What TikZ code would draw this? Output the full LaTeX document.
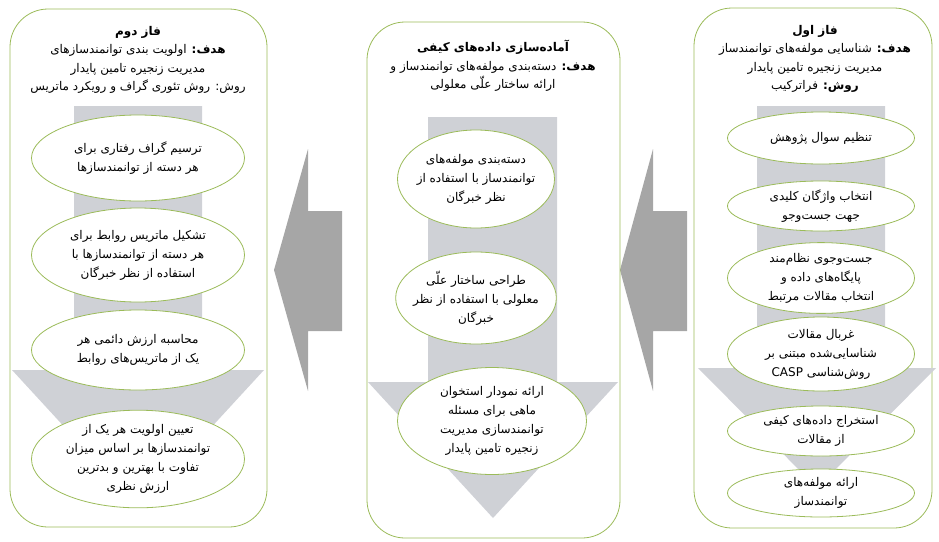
\documentclass[tikz,border=0pt]{standalone}
\usepackage{fontspec}
\usetikzlibrary{shapes.geometric}
\newfontfamily\arabicfont[Script=Arabic]{DejaVu Sans}
\TeXXeTstate=1
\definecolor{panelgreen}{HTML}{9BBB59}
\definecolor{bandgray}{HTML}{CFD1D6}
\definecolor{arrowgray}{HTML}{A6A6A6}
\newcommand{\fa}[1]{\beginR #1\endR}

\begin{document}
\begin{tikzpicture}[x=1pt,y=-1pt,
    every node/.style={align=center,font=\arabicfont\fontsize{12}{19}\selectfont},
    panel/.style={draw=panelgreen,line width=0.8pt,rounded corners=38pt,inner sep=0pt},
    head/.style={font=\arabicfont\fontsize{12}{18.5}\selectfont},
    stage/.style={ellipse,draw=panelgreen,line width=0.8pt,fill=white,inner sep=0pt}]
    \useasboundingbox (0,0) rectangle (939,541);

    % big arrows between the phases
    \fill[arrowgray] (687,211) -- (653,211) -- (653,149) -- (620,270) -- (653,391) -- (653,331) -- (687,331) -- cycle;
    \fill[arrowgray] (342,211) -- (308,211) -- (308,149) -- (274,270) -- (308,391) -- (308,331) -- (342,331) -- cycle;

    % panels
    \node[panel,minimum width=257pt,minimum height=518pt] (faz2) at (138.5,268) {};
    \node[panel,minimum width=253pt,minimum height=516pt] (amade) at (493.5,280) {};
    \node[panel,minimum width=238pt,minimum height=520pt] (faz1) at (813,268) {};

    % grey bands with arrow heads
    \fill[bandgray] (757,106) -- (885,106) -- (885,368) -- (936,368) -- (817,488) -- (698,368) -- (757,368) -- cycle;
    \fill[bandgray] (428,117) -- (557,117) -- (557,382) -- (618,382) -- (493,518) -- (368,382) -- (428,382) -- cycle;
    \fill[bandgray] (74,106) -- (202,106) -- (202,370) -- (264,370) -- (138,507) -- (12,370) -- (74,370) -- cycle;

    % phase 1
    \node[head] (faz1h) at (815,59)
      {\fa{\bfseries فاز اول}\\
       \fa{\textbf{هدف:} شناسایی مولفه‌های توانمندساز}\\
       \fa{مدیریت زنجیره تامین پایدار}\\
       \fa{\textbf{روش:} فراترکیب}};
    \node[stage,minimum width=187pt,minimum height=52pt] (r1) at (821,138)
      {\fa{تنظیم سوال پژوهش}};
    \node[stage,minimum width=187pt,minimum height=50pt] (r2) at (821,206)
      {\fa{انتخاب واژگان کلیدی}\\ \fa{جهت جست‌وجو}};
    \node[stage,minimum width=187pt,minimum height=64pt] (r3) at (821,278)
      {\fa{جست‌وجوی نظام‌مند}\\ \fa{پایگاه‌های داده و}\\ \fa{انتخاب مقالات مرتبط}};
    \node[stage,minimum width=187pt,minimum height=74pt] (r4) at (821,354)
      {\fa{غربال مقالات}\\ \fa{شناسایی‌شده مبتنی بر}\\ \fa{روش‌شناسی \beginL CASP\endL}};
    \node[stage,minimum width=187pt,minimum height=50pt] (r5) at (821,431)
      {\fa{استخراج داده‌های کیفی}\\ \fa{از مقالات}};
    \node[stage,minimum width=187pt,minimum height=48pt] (r6) at (821,493)
      {\fa{ارائه مولفه‌های}\\ \fa{توانمندساز}};

    % qualitative data
    \node[head] (amadeh) at (493,66)
      {\fa{\bfseries آماده‌سازی داده‌های کیفی}\\
       \fa{\textbf{هدف:} دسته‌بندی مولفه‌های توانمندساز و}\\
       \fa{ارائه ساختار علّی معلولی}};
    \node[stage,inner sep=-6pt,minimum width=157pt,minimum height=98pt] (m1) at (476,179)
      {\fa{دسته‌بندی مولفه‌های}\\ \fa{توانمندساز با استفاده از}\\ \fa{نظر خبرگان}};
    \node[stage,inner sep=-6pt,minimum width=157pt,minimum height=92pt] (m2) at (476,298)
      {\fa{طراحی ساختار علّی}\\ \fa{معلولی با استفاده از نظر}\\ \fa{خبرگان}};
    \node[stage,minimum width=189pt,minimum height=107pt] (m3) at (492,421)
      {\fa{ارائه نمودار استخوان}\\ \fa{ماهی برای مسئله}\\ \fa{توانمندسازی مدیریت}\\ \fa{زنجیره تامین پایدار}};

    % phase 2
    \node[head] (faz2h) at (138,60)
      {\fa{\bfseries فاز دوم}\\
       \fa{\textbf{هدف:} اولویت بندی توانمندسازهای}\\
       \fa{مدیریت زنجیره تامین پایدار}\\
       \fa{روش: روش تئوری گراف و رویکرد ماتریس}};
    \node[stage,minimum width=213pt,minimum height=86pt] (l1) at (138,158)
      {\fa{ترسیم گراف رفتاری برای}\\ \fa{هر دسته از توانمندسازها}};
    \node[stage,minimum width=213pt,minimum height=94pt] (l2) at (138,255)
      {\fa{تشکیل ماتریس روابط برای}\\ \fa{هر دسته از توانمندسازها با}\\ \fa{استفاده از نظر خبرگان}};
    \node[stage,minimum width=213pt,minimum height=80pt] (l3) at (138,350)
      {\fa{محاسبه ارزش دائمی هر}\\ \fa{یک از ماتریس‌های روابط}};
    \node[stage,minimum width=213pt,minimum height=92pt] (l4) at (138,459)
      {\fa{تعیین اولویت هر یک از}\\ \fa{توانمندسازها بر اساس میزان}\\ \fa{تفاوت با بهترین و بدترین}\\ \fa{ارزش نظری}};
\end{tikzpicture}
\end{document}
